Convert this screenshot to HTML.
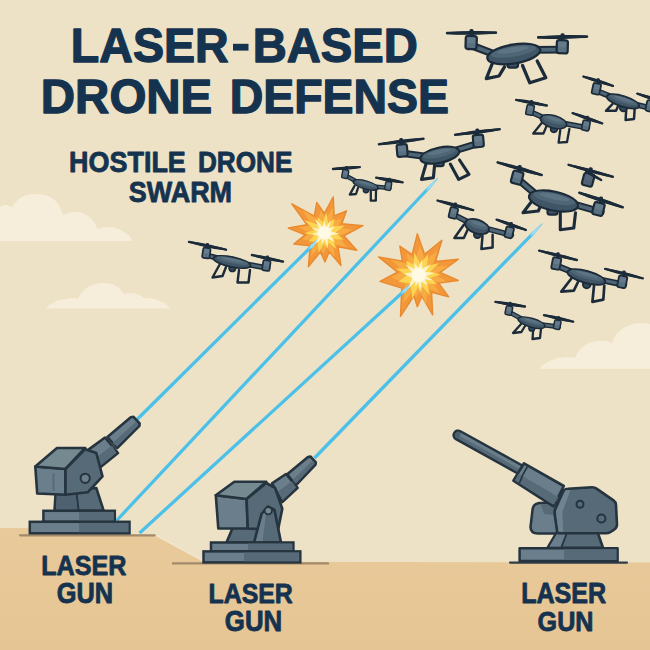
<!DOCTYPE html>
<html><head><meta charset="utf-8"><title>Laser-Based Drone Defense</title>
<style>
html,body{margin:0;padding:0;background:#efe2c5;}
body{width:650px;height:650px;overflow:hidden;}
svg{display:block}
text{font-family:"Liberation Sans",sans-serif;font-weight:bold;fill:#15334f;}
</style></head><body>
<svg width="650" height="650" viewBox="0 0 650 650">
<defs>
<linearGradient id="sky" x1="0" y1="0" x2="0" y2="1">
<stop offset="0" stop-color="#eee2c6"/><stop offset="1" stop-color="#ede1c6"/>
</linearGradient>
<linearGradient id="gnd" x1="0" y1="0" x2="0" y2="1">
<stop offset="0" stop-color="#e9ca9a"/><stop offset="1" stop-color="#e6c594"/>
</linearGradient>
</defs>
<rect width="650" height="650" fill="url(#sky)"/>

<g fill="#f6eeda">
<path d="M0 241 L0 207 Q6 203 12 207 Q20 193 38 194 Q58 195 63 215 Q76 208 88 216 Q96 222 97 229 Q112 224 124 232 Q131 236 132 241 Z"/>
<path d="M46 308.5 Q52 300 66 299 Q74 297 78 299 Q84 284 102 283 Q118 283 124 294 Q136 291 144 298 Q160 297 171 308.5 Z"/>
<path d="M539 368.8 Q548 358 566 357 Q572 357 575 358 Q580 344 596 341 Q606 340 612 343 Q618 325 640 323 Q646 323 650 324 L650 368.8 Z"/>
</g>
<path d="M0 528 L40 528 L40 534.6 L155 535.6 L203 561.6 L650 562.4 L650 650 L0 650 Z" fill="url(#gnd)"/>
<path d="M156 535.4 L203 560.8" stroke="#f3e7cf" stroke-width="1.4" opacity="0.8"/>
<path d="M20 535.3 L154.6 535.3" stroke="#a38a68" stroke-width="2.3" stroke-linecap="round"/>
<path d="M173 563.4 L328 563.4" stroke="#a38a68" stroke-width="2.4" stroke-linecap="round"/>
<path d="M510 562.6 L627 562.6" stroke="#2f3d49" stroke-width="2.1" stroke-linecap="round"/>

<g><path d="M492.5 63.0 L486.3 78.6 L499.0 76.0 L504.5 66.8" fill="none" stroke="#1c2b39" stroke-width="3.3" stroke-linecap="round" stroke-linejoin="round"/><path d="M522.5 65.5 L529.8 82.8 L545.8 77.8 L537.2 61.0" fill="none" stroke="#1c2b39" stroke-width="3.3" stroke-linecap="round" stroke-linejoin="round"/><path d="M471.5 45.5 L497.4 55.3" stroke="#1c2b39" stroke-width="7.8" stroke-linecap="round"/><path d="M471.5 45.5 L497.4 55.3" stroke="#4f6676" stroke-width="3.8" stroke-linecap="round"/><path d="M562.6 49.7 L530.2 49.9" stroke="#1c2b39" stroke-width="7.8" stroke-linecap="round"/><path d="M562.6 49.7 L530.2 49.9" stroke="#4f6676" stroke-width="3.8" stroke-linecap="round"/><rect x="507.5" y="56.8" width="10.5" height="10.8" rx="2.6" fill="#405666" stroke="#1c2b39" stroke-width="2.3"/><ellipse cx="513.8" cy="54.0" rx="26.8" ry="9.4" fill="#405666" stroke="#1c2b39" stroke-width="2.3" transform="rotate(-9.4 513.8 54.0)"/><ellipse cx="513.8" cy="51.4" rx="23.0" ry="5.2" fill="#4f6676" transform="rotate(-9.4 513.8 54.0)"/><ellipse cx="513.8" cy="49.8" rx="16.1" ry="2.6" fill="#5e7686" opacity="0.9" transform="rotate(-9.4 513.8 54.0)"/><rect x="466.0" y="36.0" width="11.0" height="13.1" rx="2.3" fill="#657b8b" stroke="#1c2b39" stroke-width="2.3" transform="rotate(1.8 471.5 31.8)"/><rect x="467.4" y="43.2" width="8.3" height="4.3" rx="1.3" fill="#405666" opacity="0.3" transform="rotate(1.8 471.5 31.8)"/><g transform="translate(471.5 32.9) rotate(-0.5)"><ellipse cx="0" cy="0" rx="25.5" ry="1.9" fill="#1c2b39"/><path d="M-24.3 0 L24.3 0" stroke="#1c2b39" stroke-width="2.8" stroke-linecap="round"/></g><rect x="469.4" y="29.1" width="4.2" height="7.1" rx="1.6" fill="#1c2b39"/><rect x="557.1" y="40.2" width="11.0" height="13.1" rx="2.3" fill="#657b8b" stroke="#1c2b39" stroke-width="2.3" transform="rotate(1.8 562.6 36.0)"/><rect x="558.5" y="47.4" width="8.3" height="4.3" rx="1.3" fill="#405666" opacity="0.3" transform="rotate(1.8 562.6 36.0)"/><g transform="translate(562.6 37.0) rotate(-1.0)"><ellipse cx="0" cy="0" rx="25.5" ry="1.9" fill="#1c2b39"/><path d="M-24.3 0 L24.3 0" stroke="#1c2b39" stroke-width="2.8" stroke-linecap="round"/></g><rect x="560.5" y="33.3" width="4.2" height="7.1" rx="1.6" fill="#1c2b39"/></g>
<g><path d="M614.4 102.0 L606.0 110.8 L616.0 110.8 L619.0 104.0" fill="none" stroke="#1c2b39" stroke-width="2.5" stroke-linecap="round" stroke-linejoin="round"/><path d="M626.3 108.0 L625.6 120.0 L634.0 119.0 L634.7 108.0" fill="none" stroke="#1c2b39" stroke-width="2.5" stroke-linecap="round" stroke-linejoin="round"/><path d="M598.2 91.4 L613.0 97.4" stroke="#1c2b39" stroke-width="5.9" stroke-linecap="round"/><path d="M598.2 91.4 L613.0 97.4" stroke="#4f6676" stroke-width="2.9" stroke-linecap="round"/><path d="M652.0 108.5 L633.0 103.8" stroke="#1c2b39" stroke-width="5.9" stroke-linecap="round"/><path d="M652.0 108.5 L633.0 103.8" stroke="#4f6676" stroke-width="2.9" stroke-linecap="round"/><circle cx="623.4" cy="107.9" r="3.5" fill="#33485a" stroke="#1c2b39" stroke-width="1.8"/><ellipse cx="623.0" cy="101.4" rx="17.0" ry="5.2" fill="#405666" stroke="#1c2b39" stroke-width="1.8" transform="rotate(17.6 623.0 101.4)"/><ellipse cx="623.0" cy="99.9" rx="14.6" ry="2.9" fill="#4f6676" transform="rotate(17.6 623.0 101.4)"/><ellipse cx="623.0" cy="99.1" rx="10.2" ry="1.5" fill="#5e7686" opacity="0.9" transform="rotate(17.6 623.0 101.4)"/><rect x="594.3" y="83.6" width="7.8" height="10.9" rx="1.8" fill="#657b8b" stroke="#1c2b39" stroke-width="1.8" transform="rotate(12.3 598.2 80.4)"/><rect x="595.3" y="89.6" width="5.7" height="3.6" rx="1.0" fill="#405666" opacity="0.3" transform="rotate(12.3 598.2 80.4)"/><g transform="translate(598.2 81.2) rotate(17.6)"><ellipse cx="0" cy="0" rx="16.5" ry="1.7" fill="#1c2b39"/><path d="M-15.4 0 L15.4 0" stroke="#1c2b39" stroke-width="2.4" stroke-linecap="round"/></g><rect x="596.6" y="78.3" width="3.2" height="5.4" rx="1.2" fill="#1c2b39"/><rect x="648.1" y="100.7" width="7.8" height="10.9" rx="1.8" fill="#657b8b" stroke="#1c2b39" stroke-width="1.8" transform="rotate(12.3 652.0 97.5)"/><rect x="649.1" y="106.7" width="5.7" height="3.6" rx="1.0" fill="#405666" opacity="0.3" transform="rotate(12.3 652.0 97.5)"/><g transform="translate(652.0 98.3) rotate(17.6)"><ellipse cx="0" cy="0" rx="16.5" ry="1.7" fill="#1c2b39"/><path d="M-15.4 0 L15.4 0" stroke="#1c2b39" stroke-width="2.4" stroke-linecap="round"/></g><rect x="650.4" y="95.4" width="3.2" height="5.4" rx="1.2" fill="#1c2b39"/></g>
<g><path d="M542.5 122.0 L533.2 133.5 L543.4 133.5 L547.0 125.0" fill="none" stroke="#1c2b39" stroke-width="2.3" stroke-linecap="round" stroke-linejoin="round"/><path d="M560.3 130.0 L558.6 142.7 L567.0 142.0 L569.4 129.0" fill="none" stroke="#1c2b39" stroke-width="2.3" stroke-linecap="round" stroke-linejoin="round"/><path d="M531.5 112.2 L545.4 118.5" stroke="#1c2b39" stroke-width="5.5" stroke-linecap="round"/><path d="M531.5 112.2 L545.4 118.5" stroke="#4f6676" stroke-width="2.7" stroke-linecap="round"/><path d="M587.4 127.8 L561.6 123.0" stroke="#1c2b39" stroke-width="5.5" stroke-linecap="round"/><path d="M587.4 127.8 L561.6 123.0" stroke="#4f6676" stroke-width="2.7" stroke-linecap="round"/><circle cx="553.9" cy="129.1" r="3.3" fill="#33485a" stroke="#1c2b39" stroke-width="1.6"/><ellipse cx="553.5" cy="121.7" rx="13.5" ry="6.2" fill="#405666" stroke="#1c2b39" stroke-width="1.6" transform="rotate(15.6 553.5 121.7)"/><ellipse cx="553.5" cy="120.0" rx="11.6" ry="3.4" fill="#4f6676" transform="rotate(15.6 553.5 121.7)"/><ellipse cx="553.5" cy="118.9" rx="8.1" ry="1.7" fill="#5e7686" opacity="0.9" transform="rotate(15.6 553.5 121.7)"/><rect x="527.9" y="105.0" width="7.3" height="10.1" rx="1.6" fill="#657b8b" stroke="#1c2b39" stroke-width="1.6" transform="rotate(10.9 531.5 102.0)"/><rect x="528.9" y="110.5" width="5.3" height="3.4" rx="0.9" fill="#405666" opacity="0.3" transform="rotate(10.9 531.5 102.0)"/><g transform="translate(531.5 102.7) rotate(10.5)"><ellipse cx="0" cy="0" rx="16.7" ry="1.7" fill="#1c2b39"/><path d="M-15.6 0 L15.6 0" stroke="#1c2b39" stroke-width="2.4" stroke-linecap="round"/></g><rect x="530.0" y="100.1" width="3.0" height="5.0" rx="1.1" fill="#1c2b39"/><rect x="583.8" y="120.6" width="7.3" height="10.1" rx="1.6" fill="#657b8b" stroke="#1c2b39" stroke-width="1.6" transform="rotate(10.9 587.4 117.6)"/><rect x="584.8" y="126.1" width="5.3" height="3.4" rx="0.9" fill="#405666" opacity="0.3" transform="rotate(10.9 587.4 117.6)"/><g transform="translate(587.4 118.3) rotate(19.0)"><ellipse cx="0" cy="0" rx="16.7" ry="1.7" fill="#1c2b39"/><path d="M-15.6 0 L15.6 0" stroke="#1c2b39" stroke-width="2.4" stroke-linecap="round"/></g><rect x="585.9" y="115.7" width="3.0" height="5.0" rx="1.1" fill="#1c2b39"/></g>
<g><path d="M426.0 164.0 L421.5 179.4 L433.4 177.7 L434.5 166.0" fill="none" stroke="#1c2b39" stroke-width="3.1" stroke-linecap="round" stroke-linejoin="round"/><path d="M450.3 164.0 L458.7 179.4 L469.0 174.3 L459.5 160.0" fill="none" stroke="#1c2b39" stroke-width="3.1" stroke-linecap="round" stroke-linejoin="round"/><path d="M401.2 153.2 L427.8 156.6" stroke="#1c2b39" stroke-width="7.3" stroke-linecap="round"/><path d="M401.2 153.2 L427.8 156.6" stroke="#4f6676" stroke-width="3.5" stroke-linecap="round"/><path d="M477.4 143.7 L451.8 151.5" stroke="#1c2b39" stroke-width="7.3" stroke-linecap="round"/><path d="M477.4 143.7 L451.8 151.5" stroke="#4f6676" stroke-width="3.5" stroke-linecap="round"/><rect x="433.9" y="157.5" width="9.8" height="8.7" rx="2.5" fill="#405666" stroke="#1c2b39" stroke-width="2.2"/><ellipse cx="439.8" cy="155.2" rx="19.8" ry="7.6" fill="#405666" stroke="#1c2b39" stroke-width="2.2" transform="rotate(-12.1 439.8 155.2)"/><ellipse cx="439.8" cy="153.1" rx="17.0" ry="4.2" fill="#4f6676" transform="rotate(-12.1 439.8 155.2)"/><ellipse cx="439.8" cy="151.8" rx="11.9" ry="2.1" fill="#5e7686" opacity="0.9" transform="rotate(-12.1 439.8 155.2)"/><rect x="396.1" y="144.4" width="10.3" height="12.2" rx="2.2" fill="#657b8b" stroke="#1c2b39" stroke-width="2.2" transform="rotate(-5.0 401.2 140.5)"/><rect x="397.3" y="151.2" width="7.7" height="4.0" rx="1.2" fill="#405666" opacity="0.3" transform="rotate(-5.0 401.2 140.5)"/><g transform="translate(401.2 141.5) rotate(-7.1)"><ellipse cx="0" cy="0" rx="23.5" ry="1.8" fill="#1c2b39"/><path d="M-22.4 0 L22.4 0" stroke="#1c2b39" stroke-width="2.6" stroke-linecap="round"/></g><rect x="399.2" y="138.0" width="3.9" height="6.7" rx="1.5" fill="#1c2b39"/><rect x="472.3" y="134.9" width="10.3" height="12.2" rx="2.2" fill="#657b8b" stroke="#1c2b39" stroke-width="2.2" transform="rotate(-5.0 477.4 131.0)"/><rect x="473.5" y="141.7" width="7.7" height="4.0" rx="1.2" fill="#405666" opacity="0.3" transform="rotate(-5.0 477.4 131.0)"/><g transform="translate(477.4 132.0) rotate(-7.1)"><ellipse cx="0" cy="0" rx="23.5" ry="1.8" fill="#1c2b39"/><path d="M-22.4 0 L22.4 0" stroke="#1c2b39" stroke-width="2.6" stroke-linecap="round"/></g><rect x="475.4" y="128.5" width="3.9" height="6.7" rx="1.5" fill="#1c2b39"/></g>
<g><path d="M354.5 186.0 L349.8 194.6 L356.0 194.0 L358.0 188.0" fill="none" stroke="#1c2b39" stroke-width="2.3" stroke-linecap="round" stroke-linejoin="round"/><path d="M370.8 191.2 L370.8 200.7 L375.8 200.7 L376.0 191.0" fill="none" stroke="#1c2b39" stroke-width="2.3" stroke-linecap="round" stroke-linejoin="round"/><path d="M346.4 176.1 L357.9 182.3" stroke="#1c2b39" stroke-width="4.6" stroke-linecap="round"/><path d="M346.4 176.1 L357.9 182.3" stroke="#4f6676" stroke-width="2.2" stroke-linecap="round"/><path d="M389.4 188.0 L373.5 186.5" stroke="#1c2b39" stroke-width="4.6" stroke-linecap="round"/><path d="M389.4 188.0 L373.5 186.5" stroke="#4f6676" stroke-width="2.2" stroke-linecap="round"/><circle cx="366.0" cy="190.0" r="2.7" fill="#33485a" stroke="#1c2b39" stroke-width="1.4"/><ellipse cx="365.7" cy="185.0" rx="13.0" ry="4.0" fill="#405666" stroke="#1c2b39" stroke-width="1.4" transform="rotate(15.5 365.7 185.0)"/><ellipse cx="365.7" cy="183.9" rx="11.2" ry="2.2" fill="#4f6676" transform="rotate(15.5 365.7 185.0)"/><ellipse cx="365.7" cy="183.2" rx="7.8" ry="1.1" fill="#5e7686" opacity="0.9" transform="rotate(15.5 365.7 185.0)"/><rect x="343.4" y="170.0" width="6.1" height="8.4" rx="1.4" fill="#657b8b" stroke="#1c2b39" stroke-width="1.4" transform="rotate(10.8 346.4 167.5)"/><rect x="344.2" y="174.6" width="4.4" height="2.8" rx="0.7" fill="#405666" opacity="0.3" transform="rotate(10.8 346.4 167.5)"/><g transform="translate(346.4 168.1) rotate(-4.0)"><ellipse cx="0" cy="0" rx="14.5" ry="1.7" fill="#1c2b39"/><path d="M-13.4 0 L13.4 0" stroke="#1c2b39" stroke-width="2.4" stroke-linecap="round"/></g><rect x="345.2" y="165.9" width="2.5" height="4.2" rx="0.9" fill="#1c2b39"/><rect x="386.4" y="181.9" width="6.1" height="8.4" rx="1.4" fill="#657b8b" stroke="#1c2b39" stroke-width="1.4" transform="rotate(10.8 389.4 179.4)"/><rect x="387.2" y="186.5" width="4.4" height="2.8" rx="0.7" fill="#405666" opacity="0.3" transform="rotate(10.8 389.4 179.4)"/><g transform="translate(389.4 180.0) rotate(10.0)"><ellipse cx="0" cy="0" rx="14.5" ry="1.7" fill="#1c2b39"/><path d="M-13.4 0 L13.4 0" stroke="#1c2b39" stroke-width="2.4" stroke-linecap="round"/></g><rect x="388.2" y="177.8" width="2.5" height="4.2" rx="0.9" fill="#1c2b39"/></g>
<g><rect x="585.5" y="173.8" width="10.5" height="12.5" rx="2.2" fill="#56677a" stroke="#1c2b39" stroke-width="2.2" transform="rotate(14.7 590.7 169.8)"/><rect x="586.8" y="180.7" width="7.9" height="4.1" rx="1.2" fill="#405666" opacity="0.3" transform="rotate(14.7 590.7 169.8)"/><g transform="translate(590.7 170.8) rotate(15.1)"><ellipse cx="0" cy="0" rx="24.0" ry="1.7" fill="#1c2b39"/><path d="M-22.9 0 L22.9 0" stroke="#1c2b39" stroke-width="2.4" stroke-linecap="round"/></g><g transform="translate(593.7 175.8) rotate(29.1)"><ellipse cx="0" cy="0" rx="9.6" ry="1.5" fill="#1c2b39"/><path d="M-8.6 0 L8.6 0" stroke="#1c2b39" stroke-width="2.2" stroke-linecap="round"/></g><rect x="588.7" y="167.2" width="4.0" height="6.8" rx="1.5" fill="#1c2b39"/><path d="M532.0 201.0 L523.0 212.8 L538.3 211.0 L541.0 205.0" fill="none" stroke="#1c2b39" stroke-width="3.1" stroke-linecap="round" stroke-linejoin="round"/><path d="M560.3 212.8 L560.3 229.7 L573.8 228.0 L575.5 212.8" fill="none" stroke="#1c2b39" stroke-width="3.1" stroke-linecap="round" stroke-linejoin="round"/><path d="M519.7 180.7 L538.3 196.3" stroke="#1c2b39" stroke-width="7.4" stroke-linecap="round"/><path d="M519.7 180.7 L538.3 196.3" stroke="#4f6676" stroke-width="3.6" stroke-linecap="round"/><path d="M601.0 212.0 L568.7 202.8" stroke="#1c2b39" stroke-width="7.4" stroke-linecap="round"/><path d="M601.0 212.0 L568.7 202.8" stroke="#4f6676" stroke-width="3.6" stroke-linecap="round"/><rect x="547.5" y="203.8" width="10.0" height="10.9" rx="2.5" fill="#405666" stroke="#1c2b39" stroke-width="2.2"/><ellipse cx="553.5" cy="201.0" rx="25.0" ry="9.5" fill="#405666" stroke="#1c2b39" stroke-width="2.2" transform="rotate(12.1 553.5 201.0)"/><ellipse cx="553.5" cy="198.3" rx="21.5" ry="5.2" fill="#4f6676" transform="rotate(12.1 553.5 201.0)"/><ellipse cx="553.5" cy="196.7" rx="15.0" ry="2.7" fill="#5e7686" opacity="0.9" transform="rotate(12.1 553.5 201.0)"/><rect x="514.5" y="171.7" width="10.5" height="12.5" rx="2.2" fill="#657b8b" stroke="#1c2b39" stroke-width="2.2" transform="rotate(14.7 519.7 167.7)"/><rect x="515.8" y="178.6" width="7.9" height="4.1" rx="1.2" fill="#405666" opacity="0.3" transform="rotate(14.7 519.7 167.7)"/><g transform="translate(519.7 168.7) rotate(16.0)"><ellipse cx="0" cy="0" rx="24.0" ry="1.9" fill="#1c2b39"/><path d="M-22.8 0 L22.8 0" stroke="#1c2b39" stroke-width="2.6" stroke-linecap="round"/></g><rect x="517.7" y="165.1" width="4.0" height="6.8" rx="1.5" fill="#1c2b39"/><rect x="595.8" y="203.0" width="10.5" height="12.5" rx="2.2" fill="#657b8b" stroke="#1c2b39" stroke-width="2.2" transform="rotate(14.7 601.0 199.0)"/><rect x="597.1" y="209.9" width="7.9" height="4.1" rx="1.2" fill="#405666" opacity="0.3" transform="rotate(14.7 601.0 199.0)"/><g transform="translate(601.0 200.0) rotate(18.5)"><ellipse cx="0" cy="0" rx="24.0" ry="1.9" fill="#1c2b39"/><path d="M-22.8 0 L22.8 0" stroke="#1c2b39" stroke-width="2.6" stroke-linecap="round"/></g><rect x="599.0" y="196.4" width="4.0" height="6.8" rx="1.5" fill="#1c2b39"/></g>
<g><path d="M464.0 224.6 L454.4 238.0 L463.8 238.0 L468.0 229.0" fill="none" stroke="#1c2b39" stroke-width="2.5" stroke-linecap="round" stroke-linejoin="round"/><path d="M482.5 235.8 L481.4 249.0 L492.6 247.6 L492.6 234.8" fill="none" stroke="#1c2b39" stroke-width="2.5" stroke-linecap="round" stroke-linejoin="round"/><path d="M455.4 215.5 L469.7 222.9" stroke="#1c2b39" stroke-width="5.9" stroke-linecap="round"/><path d="M455.4 215.5 L469.7 222.9" stroke="#4f6676" stroke-width="2.9" stroke-linecap="round"/><path d="M511.2 235.0 L484.3 228.0" stroke="#1c2b39" stroke-width="5.9" stroke-linecap="round"/><path d="M511.2 235.0 L484.3 228.0" stroke="#4f6676" stroke-width="2.9" stroke-linecap="round"/><circle cx="477.4" cy="234.6" r="3.5" fill="#33485a" stroke="#1c2b39" stroke-width="1.8"/><ellipse cx="477.0" cy="226.5" rx="12.5" ry="6.8" fill="#405666" stroke="#1c2b39" stroke-width="1.8" transform="rotate(19.3 477.0 226.5)"/><ellipse cx="477.0" cy="224.6" rx="10.8" ry="3.7" fill="#4f6676" transform="rotate(19.3 477.0 226.5)"/><ellipse cx="477.0" cy="223.4" rx="7.5" ry="1.9" fill="#5e7686" opacity="0.9" transform="rotate(19.3 477.0 226.5)"/><rect x="451.5" y="207.7" width="7.8" height="10.9" rx="1.8" fill="#657b8b" stroke="#1c2b39" stroke-width="1.8" transform="rotate(13.5 455.4 204.5)"/><rect x="452.5" y="213.7" width="5.7" height="3.6" rx="1.0" fill="#405666" opacity="0.3" transform="rotate(13.5 455.4 204.5)"/><g transform="translate(455.4 205.3) rotate(15.0)"><ellipse cx="0" cy="0" rx="19.5" ry="1.7" fill="#1c2b39"/><path d="M-18.4 0 L18.4 0" stroke="#1c2b39" stroke-width="2.4" stroke-linecap="round"/></g><rect x="453.8" y="202.4" width="3.2" height="5.4" rx="1.2" fill="#1c2b39"/><rect x="507.3" y="227.2" width="7.8" height="10.9" rx="1.8" fill="#657b8b" stroke="#1c2b39" stroke-width="1.8" transform="rotate(13.5 511.2 224.0)"/><rect x="508.3" y="233.2" width="5.7" height="3.6" rx="1.0" fill="#405666" opacity="0.3" transform="rotate(13.5 511.2 224.0)"/><g transform="translate(511.2 224.8) rotate(19.3)"><ellipse cx="0" cy="0" rx="16.5" ry="1.7" fill="#1c2b39"/><path d="M-15.4 0 L15.4 0" stroke="#1c2b39" stroke-width="2.4" stroke-linecap="round"/></g><rect x="509.6" y="221.9" width="3.2" height="5.4" rx="1.2" fill="#1c2b39"/></g>
<g><path d="M572.5 277.0 L561.3 291.6 L573.8 290.6 L578.0 282.0" fill="none" stroke="#1c2b39" stroke-width="2.7" stroke-linecap="round" stroke-linejoin="round"/><path d="M594.0 286.0 L592.4 301.8 L603.3 299.7 L604.3 285.5" fill="none" stroke="#1c2b39" stroke-width="2.7" stroke-linecap="round" stroke-linejoin="round"/><path d="M558.0 266.3 L574.6 272.9" stroke="#1c2b39" stroke-width="6.4" stroke-linecap="round"/><path d="M558.0 266.3 L574.6 272.9" stroke="#4f6676" stroke-width="3.1" stroke-linecap="round"/><path d="M624.0 284.6 L598.0 279.3" stroke="#1c2b39" stroke-width="6.4" stroke-linecap="round"/><path d="M624.0 284.6 L598.0 279.3" stroke="#4f6676" stroke-width="3.1" stroke-linecap="round"/><circle cx="586.7" cy="284.4" r="3.8" fill="#33485a" stroke="#1c2b39" stroke-width="1.9"/><ellipse cx="586.3" cy="277.0" rx="19.5" ry="6.0" fill="#405666" stroke="#1c2b39" stroke-width="1.9" transform="rotate(15.5 586.3 277.0)"/><ellipse cx="586.3" cy="275.3" rx="16.8" ry="3.3" fill="#4f6676" transform="rotate(15.5 586.3 277.0)"/><ellipse cx="586.3" cy="274.3" rx="11.7" ry="1.7" fill="#5e7686" opacity="0.9" transform="rotate(15.5 586.3 277.0)"/><rect x="553.8" y="257.8" width="8.4" height="11.7" rx="1.9" fill="#657b8b" stroke="#1c2b39" stroke-width="1.9" transform="rotate(10.8 558.0 254.4)"/><rect x="554.9" y="264.3" width="6.2" height="3.9" rx="1.0" fill="#405666" opacity="0.3" transform="rotate(10.8 558.0 254.4)"/><g transform="translate(558.0 255.3) rotate(14.0)"><ellipse cx="0" cy="0" rx="20.5" ry="1.7" fill="#1c2b39"/><path d="M-19.4 0 L19.4 0" stroke="#1c2b39" stroke-width="2.4" stroke-linecap="round"/></g><rect x="556.3" y="252.2" width="3.4" height="5.8" rx="1.3" fill="#1c2b39"/><rect x="619.8" y="276.1" width="8.4" height="11.7" rx="1.9" fill="#657b8b" stroke="#1c2b39" stroke-width="1.9" transform="rotate(10.8 624.0 272.7)"/><rect x="620.9" y="282.6" width="6.2" height="3.9" rx="1.0" fill="#405666" opacity="0.3" transform="rotate(10.8 624.0 272.7)"/><g transform="translate(624.0 273.6) rotate(14.0)"><ellipse cx="0" cy="0" rx="20.5" ry="1.7" fill="#1c2b39"/><path d="M-19.4 0 L19.4 0" stroke="#1c2b39" stroke-width="2.4" stroke-linecap="round"/></g><rect x="622.3" y="270.5" width="3.4" height="5.8" rx="1.3" fill="#1c2b39"/></g>
<g><path d="M522.0 323.0 L513.0 333.0 L521.4 332.0 L525.0 326.0" fill="none" stroke="#1c2b39" stroke-width="2.3" stroke-linecap="round" stroke-linejoin="round"/><path d="M533.2 329.5 L532.5 339.0 L540.0 338.0 L541.0 328.8" fill="none" stroke="#1c2b39" stroke-width="2.3" stroke-linecap="round" stroke-linejoin="round"/><path d="M510.2 312.6 L523.2 319.6" stroke="#1c2b39" stroke-width="4.9" stroke-linecap="round"/><path d="M510.2 312.6 L523.2 319.6" stroke="#4f6676" stroke-width="2.4" stroke-linecap="round"/><path d="M558.6 326.8 L539.8 324.5" stroke="#1c2b39" stroke-width="4.9" stroke-linecap="round"/><path d="M558.6 326.8 L539.8 324.5" stroke="#4f6676" stroke-width="2.4" stroke-linecap="round"/><circle cx="531.8" cy="328.2" r="2.9" fill="#33485a" stroke="#1c2b39" stroke-width="1.5"/><ellipse cx="531.5" cy="322.7" rx="14.0" ry="4.4" fill="#405666" stroke="#1c2b39" stroke-width="1.5" transform="rotate(16.4 531.5 322.7)"/><ellipse cx="531.5" cy="321.5" rx="12.0" ry="2.4" fill="#4f6676" transform="rotate(16.4 531.5 322.7)"/><ellipse cx="531.5" cy="320.7" rx="8.4" ry="1.2" fill="#5e7686" opacity="0.9" transform="rotate(16.4 531.5 322.7)"/><rect x="507.0" y="306.1" width="6.5" height="9.0" rx="1.5" fill="#657b8b" stroke="#1c2b39" stroke-width="1.5" transform="rotate(11.4 510.2 303.5)"/><rect x="507.8" y="311.1" width="4.7" height="3.0" rx="0.8" fill="#405666" opacity="0.3" transform="rotate(11.4 510.2 303.5)"/><g transform="translate(510.2 304.2) rotate(9.0)"><ellipse cx="0" cy="0" rx="16.0" ry="1.7" fill="#1c2b39"/><path d="M-14.9 0 L14.9 0" stroke="#1c2b39" stroke-width="2.4" stroke-linecap="round"/></g><rect x="508.9" y="301.8" width="2.6" height="4.5" rx="1.0" fill="#1c2b39"/><rect x="555.4" y="320.3" width="6.5" height="9.0" rx="1.5" fill="#657b8b" stroke="#1c2b39" stroke-width="1.5" transform="rotate(11.4 558.6 317.7)"/><rect x="556.2" y="325.3" width="4.7" height="3.0" rx="0.8" fill="#405666" opacity="0.3" transform="rotate(11.4 558.6 317.7)"/><g transform="translate(558.6 318.4) rotate(12.5)"><ellipse cx="0" cy="0" rx="16.0" ry="1.7" fill="#1c2b39"/><path d="M-14.9 0 L14.9 0" stroke="#1c2b39" stroke-width="2.4" stroke-linecap="round"/></g><rect x="557.3" y="316.0" width="2.6" height="4.5" rx="1.0" fill="#1c2b39"/></g>
<g><path d="M220.5 263.0 L212.5 277.5 L222.5 276.0 L226.0 267.0" fill="none" stroke="#1c2b39" stroke-width="2.4" stroke-linecap="round" stroke-linejoin="round"/><path d="M239.0 270.0 L237.5 282.5 L248.5 282.5 L250.0 270.0" fill="none" stroke="#1c2b39" stroke-width="2.4" stroke-linecap="round" stroke-linejoin="round"/><path d="M207.5 255.5 L220.5 258.8" stroke="#1c2b39" stroke-width="5.6" stroke-linecap="round"/><path d="M207.5 255.5 L220.5 258.8" stroke="#4f6676" stroke-width="2.7" stroke-linecap="round"/><path d="M267.5 268.0 L243.5 263.7" stroke="#1c2b39" stroke-width="5.6" stroke-linecap="round"/><path d="M267.5 268.0 L243.5 263.7" stroke="#4f6676" stroke-width="2.7" stroke-linecap="round"/><circle cx="232.4" cy="268.2" r="3.3" fill="#33485a" stroke="#1c2b39" stroke-width="1.7"/><ellipse cx="232.0" cy="262.0" rx="19.0" ry="5.0" fill="#405666" stroke="#1c2b39" stroke-width="1.7" transform="rotate(11.8 232.0 262.0)"/><ellipse cx="232.0" cy="260.6" rx="16.3" ry="2.8" fill="#4f6676" transform="rotate(11.8 232.0 262.0)"/><ellipse cx="232.0" cy="259.8" rx="11.4" ry="1.4" fill="#5e7686" opacity="0.9" transform="rotate(11.8 232.0 262.0)"/><rect x="203.8" y="248.0" width="7.4" height="10.3" rx="1.7" fill="#657b8b" stroke="#1c2b39" stroke-width="1.7" transform="rotate(8.2 207.5 245.0)"/><rect x="204.8" y="253.7" width="5.4" height="3.5" rx="0.9" fill="#405666" opacity="0.3" transform="rotate(8.2 207.5 245.0)"/><g transform="translate(207.5 245.8) rotate(11.8)"><ellipse cx="0" cy="0" rx="20.0" ry="1.7" fill="#1c2b39"/><path d="M-18.9 0 L18.9 0" stroke="#1c2b39" stroke-width="2.4" stroke-linecap="round"/></g><rect x="206.0" y="243.0" width="3.0" height="5.2" rx="1.1" fill="#1c2b39"/><rect x="263.8" y="260.5" width="7.4" height="10.3" rx="1.7" fill="#657b8b" stroke="#1c2b39" stroke-width="1.7" transform="rotate(8.2 267.5 257.5)"/><rect x="264.8" y="266.2" width="5.4" height="3.5" rx="0.9" fill="#405666" opacity="0.3" transform="rotate(8.2 267.5 257.5)"/><g transform="translate(267.5 258.3) rotate(11.8)"><ellipse cx="0" cy="0" rx="17.0" ry="1.7" fill="#1c2b39"/><path d="M-15.9 0 L15.9 0" stroke="#1c2b39" stroke-width="2.4" stroke-linecap="round"/></g><rect x="266.0" y="255.5" width="3.0" height="5.2" rx="1.1" fill="#1c2b39"/></g>
<polygon points="356.8,250.2 338.1,246.8 341.0,265.5 329.2,251.7 325.0,262.0 320.4,251.9 308.4,266.8 310.1,245.9 293.8,244.0 305.1,234.9 288.3,228.0 306.8,224.7 291.8,203.8 314.3,216.2 316.7,202.5 324.4,213.3 333.3,196.9 334.1,215.8 346.5,210.8 341.8,223.7 363.0,225.7 343.8,235.8" fill="#f2973a" stroke="#e98a2e" stroke-width="1.4" stroke-linejoin="round"/><polygon points="346.6,247.3 333.6,244.0 334.3,257.3 326.7,247.1 323.0,253.8 320.2,246.6 310.8,256.2 313.0,241.6 301.8,238.9 310.1,233.1 298.8,227.1 311.9,225.7 302.9,209.9 318.1,219.9 320.8,210.6 325.7,218.4 333.1,207.6 332.6,220.9 341.7,218.4 337.8,227.2 352.6,230.1 338.5,236.3" fill="#f7ab42"/><polygon points="343.5,239.5 333.1,239.2 336.3,249.1 328.7,242.7 327.3,248.6 323.9,243.5 318.7,252.7 317.8,241.2 308.8,241.5 314.2,235.6 304.4,233.3 314.2,229.9 304.2,219.9 317.5,224.6 317.7,217.0 322.8,222.2 326.2,212.5 328.2,222.7 334.6,219.0 333.1,226.4 344.8,225.6 335.2,232.8" fill="#fcd652"/>
<polygon points="458.2,280.5 438.7,283.1 448.7,296.9 431.6,292.3 432.7,314.9 421.9,296.3 417.3,306.8 413.9,295.9 400.5,316.3 401.8,288.1 380.0,281.3 397.5,272.2 378.6,256.9 402.4,261.1 399.8,246.2 412.2,254.5 417.3,233.8 424.6,254.3 441.9,240.3 435.5,261.5 458.5,259.3 440.1,272.4" fill="#f2973a" stroke="#e98a2e" stroke-width="1.4" stroke-linejoin="round"/><polygon points="446.7,281.4 433.0,282.2 438.9,292.6 427.1,288.6 426.3,304.5 419.7,290.9 415.7,297.7 413.8,290.1 403.1,303.5 405.4,283.6 390.6,277.1 403.3,271.6 391.1,259.5 407.6,263.7 407.0,253.2 415.3,259.5 420.3,245.4 424.4,260.1 437.5,251.6 432.0,266.1 448.3,266.2 434.7,274.5" fill="#f7ab42"/><polygon points="440.7,274.6 430.3,277.7 436.9,284.3 427.2,283.3 429.8,295.5 422.3,286.3 420.7,292.4 417.9,286.8 412.4,299.0 410.7,283.6 398.3,281.8 407.0,275.3 395.4,268.6 408.7,268.8 406.0,261.0 413.5,264.4 414.4,252.7 420.2,263.3 428.4,254.2 426.7,266.2 439.0,263.1 430.2,271.8" fill="#fcd652"/>
<g><polygon points="138.2,420.7 312.9,247.3 321.2,237.2 320.8,236.8 310.6,245.0 135.8,418.3" fill="#4bc1ea"/><polygon points="312.9,247.3 321.0,237.0 310.7,245.0 308.2,249.7" fill="#a6e0f5" opacity="0.85"/><polygon points="118.0,521.4 430.3,188.6 438.2,178.2 437.8,177.8 427.9,186.4 115.6,519.2" fill="#4bc1ea"/><polygon points="430.2,188.6 438.0,178.0 428.0,186.4 425.7,191.1" fill="#a6e0f5" opacity="0.85"/><polygon points="140.7,534.2 405.5,292.0 414.2,282.2 413.8,281.8 403.3,289.6 138.5,531.8" fill="#4bc1ea"/><polygon points="405.5,291.9 414.0,282.0 403.3,289.6 400.7,294.1" fill="#a6e0f5" opacity="0.85"/><polygon points="315.7,459.2 534.6,234.0 542.7,223.7 542.3,223.3 532.3,231.7 313.3,456.8" fill="#4bc1ea"/><polygon points="534.6,233.9 542.5,223.5 532.3,231.7 530.0,236.4" fill="#a6e0f5" opacity="0.85"/></g>
<polygon points="334.8,242.2 327.8,238.5 327.6,246.4 324.5,239.4 321.8,244.5 321.6,238.7 315.4,243.9 318.7,235.9 312.2,234.1 317.9,231.9 311.6,227.7 319.3,228.7 315.1,219.1 322.5,226.5 324.4,220.8 326.1,226.4 331.0,220.4 329.1,228.0 334.8,226.6 330.9,231.2 339.3,233.7 330.6,235.4" fill="#fdf3c6"/><circle cx="324.5" cy="232.8" r="6.4" fill="#fefae6"/>
<polygon points="432.8,280.6 424.7,279.3 427.8,285.8 421.6,281.8 420.3,291.0 418.1,282.3 415.3,286.6 415.4,281.5 408.3,288.5 412.1,277.9 403.9,273.8 412.0,272.3 405.6,264.6 414.5,269.1 414.4,262.6 418.3,267.7 422.0,259.7 422.4,268.7 430.5,264.3 425.4,271.9 434.9,272.9 426.1,275.9" fill="#fdf3c6"/><circle cx="418.8" cy="275" r="7.1" fill="#fefae6"/>
<g><polygon points="107.4,437.0 130.8,417.2 133.5,416.8 139.6,423.5 139.4,425.8 117.2,448.0" fill="#6a7e8b" stroke="#25343f" stroke-width="2.6" stroke-linejoin="round"/><polygon points="112.5,443 136.3,421.5 138.2,424 138,425.5 117,446.6" fill="#566a78"/><polygon points="88.5,449.6 105.0,437.5 118.0,453.0 100.0,467.5" fill="#6a7e8b" stroke="#25343f" stroke-width="2.6" stroke-linejoin="round"/><polygon points="95,458.5 112,445.5 116.3,452.8 100.3,465.8" fill="#566a78"/><polygon points="55.7,492.0 96.3,488.0 103.7,510.8 54.5,510.8" fill="#566a78" stroke="#25343f" stroke-width="2.6" stroke-linejoin="round"/><path d="M76.5 493 L78.5 510" stroke="#25343f" stroke-width="2"/><polygon points="57,493 75.5,493 77.3,509.5 56,509.5" fill="#4d6170"/><polygon points="35.3,466.5 65.5,469.0 65.5,494.8 37.2,493.5" fill="#6a7e8b" stroke="#25343f" stroke-width="2.6" stroke-linejoin="round"/><polygon points="35.3,466.5 57.0,448.0 85.2,448.0 65.5,469.0" fill="#758991" stroke="#25343f" stroke-width="2.6" stroke-linejoin="round"/><polygon points="65.5,469.0 85.2,449.2 96.3,453.0 102.5,476.3 87.7,492.3 65.5,494.8" fill="#566a78" stroke="#25343f" stroke-width="2.6" stroke-linejoin="round"/><circle cx="85.2" cy="478.3" r="4.6" fill="#6a7e8b" stroke="#25343f" stroke-width="2"/><path d="M53.5 474 L53.5 490" stroke="#566a78" stroke-width="2" stroke-linecap="round"/><rect x="43.4" y="510.8" width="71.4" height="11" fill="#6a7e8b" stroke="#25343f" stroke-width="2.5"/><rect x="79" y="511.9" width="34.7" height="8.8" fill="#566a78"/><rect x="29.8" y="521.8" width="99.7" height="11.5" fill="#6a7e8b" stroke="#25343f" stroke-width="2.5"/><rect x="79" y="522.9" width="49.4" height="9.3" fill="#566a78"/></g>
<g><polygon points="287.2,474.3 308.0,457.0 310.6,456.6 315.8,462.3 315.5,464.5 295.8,485.4" fill="#6a7e8b" stroke="#25343f" stroke-width="2.6" stroke-linejoin="round"/><polygon points="292,480.5 312.8,460.6 314.5,462.8 314.2,464.2 295.6,483.8" fill="#566a78"/><polygon points="272.0,483.3 286.0,474.0 297.6,487.8 282.3,502.0" fill="#6a7e8b" stroke="#25343f" stroke-width="2.6" stroke-linejoin="round"/><polygon points="278,491.5 292,481.3 296,487.6 282.6,500.2" fill="#566a78"/><polygon points="233.0,527.0 262.0,527.0 262.0,542.5 226.5,542.5" fill="#566a78" stroke="#25343f" stroke-width="2.6" stroke-linejoin="round"/><polygon points="215.8,495.2 246.6,499.0 247.8,528.5 218.3,528.5" fill="#6a7e8b" stroke="#25343f" stroke-width="2.6" stroke-linejoin="round"/><polygon points="215.8,495.2 234.3,481.7 266.3,481.7 246.6,499.0" fill="#758991" stroke="#25343f" stroke-width="2.6" stroke-linejoin="round"/><polygon points="246.6,499.0 266.3,483.0 275.0,487.8 282.3,508.8 278.0,530.0 247.8,528.5" fill="#566a78" stroke="#25343f" stroke-width="2.6" stroke-linejoin="round"/><polygon points="254.0,542.5 261.5,514.0 267.8,506.5 274.5,510.0 281.0,542.5" fill="#566a78" stroke="#25343f" stroke-width="2.6" stroke-linejoin="round"/><polygon points="256,541.3 263,514.5 266.5,510.5 262.5,541.3" fill="#6a7e8b"/><circle cx="268.3" cy="510.7" r="3.6" fill="#758991" stroke="#25343f" stroke-width="1.8"/><rect x="211" y="542.5" width="82.4" height="9" fill="#6a7e8b" stroke="#25343f" stroke-width="2.5"/><rect x="248" y="543.6" width="44.3" height="6.8" fill="#566a78"/><rect x="203.5" y="551.4" width="96.8" height="11" fill="#6a7e8b" stroke="#25343f" stroke-width="2.5"/><rect x="244" y="552.5" width="55.2" height="8.8" fill="#566a78"/></g>
<g><path d="M458.2 435.2 L521 470" stroke="#25343f" stroke-width="11.6" stroke-linecap="round"/><path d="M458.2 435.2 L521 470" stroke="#566a78" stroke-width="6.6" stroke-linecap="round"/><path d="M460.5 434.6 L522 468.6" stroke="#6a7e8b" stroke-width="3.2" stroke-linecap="round"/><ellipse cx="457.8" cy="435" rx="2.4" ry="3.5" fill="#4a5e6d" transform="rotate(29 457.8 435)"/><path d="M539 503 Q533 504 532.5 510 L530.5 527 Q530.5 533.5 538 533.5 L558 533.5 L558 503 Z" fill="#6a7e8b" stroke="#25343f" stroke-width="2.5" stroke-linejoin="round"/><path d="M541 505 L554 505 L554 515 L544 514 Z" fill="#566a78"/><polygon points="524.0,463.3 563.8,486.0 553.5,506.3 513.4,480.6" fill="#6a7e8b" stroke="#25343f" stroke-width="2.6" stroke-linejoin="round"/><polygon points="518.5,473.8 558.5,497 554,504.6 515,480.4" fill="#566a78"/><path d="M527.5 466.5 Q522.5 474 519.5 483" fill="none" stroke="#25343f" stroke-width="1.6"/><polygon points="557.0,532.0 597.5,532.0 603.0,547.8 547.5,547.8" fill="#566a78" stroke="#25343f" stroke-width="2.6" stroke-linejoin="round"/><polygon points="556.5,534.5 566,534.5 561,546.5 549.5,546.5" fill="#6a7e8b"/><path d="M566.5 534 L561.5 547" stroke="#25343f" stroke-width="1.8"/><path d="M568 488.7 L592 487.3 Q594.5 487.2 596.5 488.6 L613.5 500.4 Q615.8 502 616 505 L617 524.5 Q617 527.5 614.5 529.3 L610.5 532 Q608.5 533.3 606 533.3 L560 533.3 Q557.3 533.3 557 530.5 L554.6 513.5 Q554.3 511.5 555 509.5 L563 491.5 Q564.5 488.8 568 488.7 Z" fill="#566a78" stroke="#25343f" stroke-width="2.6" stroke-linejoin="round"/><path d="M565.5 490.3 L556 511.5 L558.5 531.8 L563.3 531.8 L562.3 512 L570.5 490 Z" fill="#6f8390"/><circle cx="580" cy="504.2" r="3.5" fill="#566a78" stroke="#25343f" stroke-width="2"/><circle cx="601.4" cy="518.5" r="4.1" fill="#566a78" stroke="#25343f" stroke-width="2"/><rect x="519.6" y="548.3" width="98" height="12.6" fill="#6a7e8b" stroke="#25343f" stroke-width="2.5" stroke-linejoin="round"/><rect x="564" y="549.5" width="52.4" height="10.2" fill="#566a78"/></g>
<text transform="translate(70.79 62.35) scale(0.4661 0.4841)" font-size="100" stroke="#15334f" stroke-width="2.74" stroke-linejoin="round">LASER</text>
<rect x="233" y="43.8" width="15.5" height="6.8" fill="#15334f"/>
<text transform="translate(252.75 62.35) scale(0.4717 0.4841)" font-size="100" stroke="#15334f" stroke-width="2.72" stroke-linejoin="round">BASED</text>
<text transform="translate(40.83 112.95) scale(0.4749 0.4841)" font-size="100" stroke="#15334f" stroke-width="2.71" stroke-linejoin="round">DRONE</text>
<text transform="translate(229.70 112.95) scale(0.4644 0.4841)" font-size="100" stroke="#15334f" stroke-width="2.74" stroke-linejoin="round">DEFENSE</text>
<text transform="translate(69.01 171.70) scale(0.2697 0.2971)" font-size="100" stroke="#15334f" stroke-width="2.82" stroke-linejoin="round">HOSTILE</text>
<text transform="translate(197.97 171.70) scale(0.2617 0.2971)" font-size="100" stroke="#15334f" stroke-width="2.86" stroke-linejoin="round">DRONE</text>
<text transform="translate(128.79 201.90) scale(0.2695 0.3029)" font-size="100" stroke="#15334f" stroke-width="2.80" stroke-linejoin="round">SWARM</text>
<text transform="translate(41.24 575.20) scale(0.2515 0.2841)" font-size="100" stroke="#15334f" stroke-width="2.99" stroke-linejoin="round">LASER</text>
<text transform="translate(56.69 603.20) scale(0.2536 0.2899)" font-size="100" stroke="#15334f" stroke-width="2.94" stroke-linejoin="round">GUN</text>
<text transform="translate(208.46 603.00) scale(0.2491 0.2855)" font-size="100" stroke="#15334f" stroke-width="2.99" stroke-linejoin="round">LASER</text>
<text transform="translate(224.87 631.40) scale(0.2583 0.2899)" font-size="100" stroke="#15334f" stroke-width="2.92" stroke-linejoin="round">GUN</text>
<text transform="translate(521.14 603.20) scale(0.2512 0.2884)" font-size="100" stroke="#15334f" stroke-width="2.97" stroke-linejoin="round">LASER</text>
<text transform="translate(537.59 631.40) scale(0.2517 0.2855)" font-size="100" stroke="#15334f" stroke-width="2.98" stroke-linejoin="round">GUN</text>
</svg></body></html>
